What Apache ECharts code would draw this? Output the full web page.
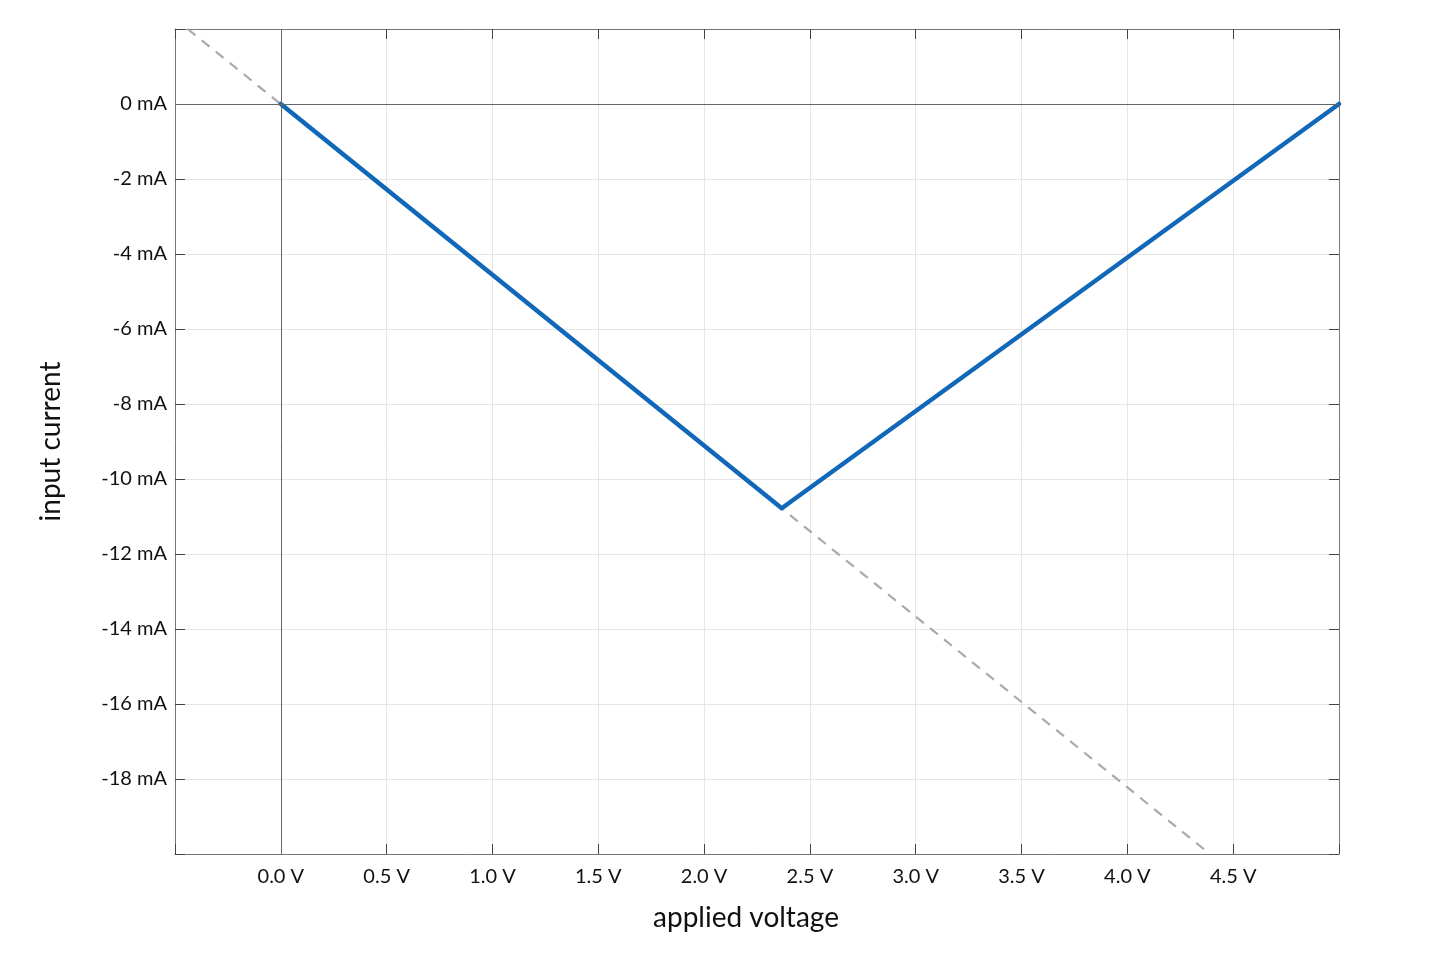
<!DOCTYPE html>
<html>
<head>
<meta charset="utf-8">
<script src="https://cdn.jsdelivr.net/npm/echarts@6/dist/echarts.min.js"></script>
<style>
  html, body { margin: 0; padding: 0; background: #fff; }
  #chart { width: 1456px; height: 971px; }
</style>
</head>
<body>
<div id="chart"></div>
<script>
// measured curve (V, mA)
const curveVoltage = [0, 2.367, 5.0];
const curveCurrent = [0, -10.78, 0];
// extrapolated line, dashed
const dashVoltage = [-0.44, 4.39];
const dashCurrent = [2.0, -20.0];

const xTicks = [0, 0.5, 1, 1.5, 2, 2.5, 3, 3.5, 4, 4.5];
const yTicks = [0, -2, -4, -6, -8, -10, -12, -14, -16, -18];

const font = 'Lato, "Noto Sans", sans-serif';
const frameColor = '#777';

const chart = echarts.init(document.getElementById('chart'));

function pairs(xs, ys) {
  return xs.map((x, i) => [x, ys[i]]);
}

const option = {
  animation: false,
  grid: { left: 175, right: 117, top: 29, bottom: 117 },
  xAxis: [
    {
      type: 'value', min: -0.5, max: 5.0, interval: 0.5,
      name: 'applied voltage', nameLocation: 'middle', nameGap: 50,
      nameTextStyle: { fontFamily: font, fontSize: 28, color: '#111', padding: [0, 22, 0, 0] },
      axisLine: { show: true, onZero: false, lineStyle: { color: frameColor } },
      axisTick: { show: true, inside: true, length: 10, lineStyle: { color: '#444' } },
      axisLabel: {
        fontFamily: font, fontSize: 20, color: '#111', margin: 13,
        formatter: v => xTicks.some(t => Math.abs(t - v) < 1e-6) ? v.toFixed(1) + ' V' : ''
      },
      splitLine: { show: true, lineStyle: { color: '#e6e6e6', width: 1 } }
    },
    {
      type: 'value', position: 'top', min: -0.5, max: 5.0, interval: 0.5,
      axisLine: { show: true, onZero: false, lineStyle: { color: frameColor } },
      axisTick: { show: true, inside: true, length: 10, lineStyle: { color: '#444' } },
      axisLabel: { show: false },
      splitLine: { show: false }
    }
  ],
  yAxis: [
    {
      type: 'value', min: -20, max: 2, interval: 2,
      name: 'input current', nameLocation: 'middle', nameGap: 110,
      nameTextStyle: { fontFamily: font, fontSize: 28, color: '#111' },
      axisLine: { show: true, onZero: false, lineStyle: { color: frameColor } },
      axisTick: { show: true, inside: true, length: 10, lineStyle: { color: '#444' } },
      axisLabel: {
        fontFamily: font, fontSize: 20, color: '#111', margin: 8,
        formatter: v => yTicks.indexOf(v) >= 0 ? v + ' mA' : ''
      },
      splitLine: { show: true, lineStyle: { color: '#e6e6e6', width: 1 } }
    },
    {
      type: 'value', position: 'right', min: -20, max: 2, interval: 2,
      axisLine: { show: true, onZero: false, lineStyle: { color: frameColor } },
      axisTick: { show: true, inside: true, length: 10, lineStyle: { color: '#444' } },
      axisLabel: { show: false },
      splitLine: { show: false }
    }
  ],
  series: [
    {
      type: 'line',
      data: pairs(dashVoltage, dashCurrent),
      showSymbol: false,
      lineStyle: { color: '#aaaaaa', width: 2.2, type: [10, 8] },
      markLine: {
        silent: true, symbol: 'none', label: { show: false },
        lineStyle: { color: '#666', width: 1, type: 'solid' },
        data: [{ xAxis: 0 }, { yAxis: 0 }]
      },
      z: 2
    },
    {
      type: 'line',
      data: pairs(curveVoltage, curveCurrent),
      showSymbol: false,
      lineStyle: { color: '#1168b8', width: 4.5, join: 'round', cap: 'round' },
      z: 3
    }
  ]
};

chart.setOption(option);
</script>
</body>
</html>
